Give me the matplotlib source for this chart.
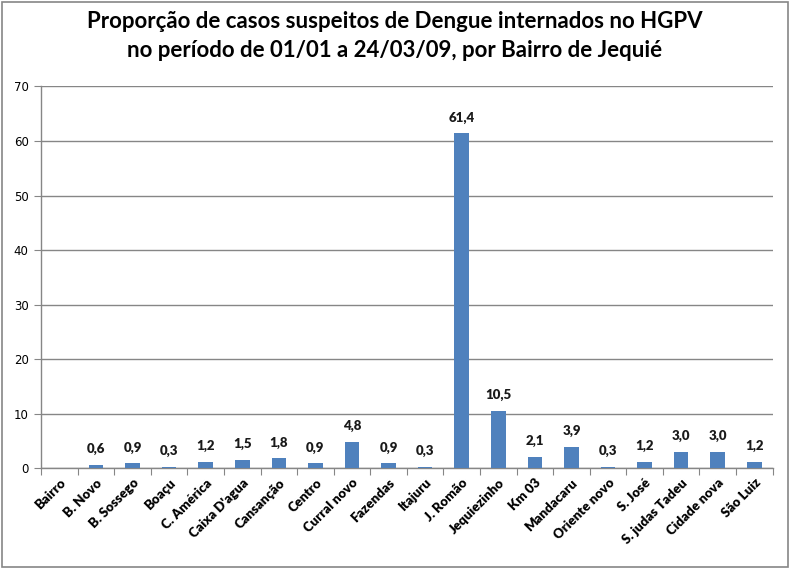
import numpy as np
import matplotlib.pyplot as plt

# values (Bairro has no bar)
bairros = ["Bairro", "B. Novo", "B. Sossego", "Boaçu", "C. América", "Caixa D'agua",
           "Cansanção", "Centro", "Curral novo", "Fazendas", "Itajuru", "J. Romão",
           "Jequiezinho", "Km 03", "Mandacaru", "Oriente novo", "S. José",
           "S. judas Tadeu", "Cidade nova", "São Luiz"]
proporcao = [np.nan, 0.6, 0.9, 0.3, 1.2, 1.5, 1.8, 0.9, 4.8, 0.9, 0.3, 61.4,
             10.5, 2.1, 3.9, 0.3, 1.2, 3.0, 3.0, 1.2]
y_ticks = [0, 10, 20, 30, 40, 50, 60, 70]

titulo = ("Proporção de casos suspeitos de Dengue internados no HGPV\n"
          "no período de 01/01 a 24/03/09, por Bairro de Jequié")

bar_color = "#4F81BD"
grid_color = "#868686"
font_lbl = ["Lato", "DejaVu Sans"]

fig = plt.figure(figsize=(7.9, 5.69), dpi=100)
ax = fig.add_axes([0.052, 0.177, 0.926, 0.671])

x = np.arange(len(bairros))
vals = np.array(proporcao, dtype=float)
ax.bar(x, np.nan_to_num(vals), width=0.4, color=bar_color, zorder=3)

for xi, v in zip(x, vals):
    if np.isnan(v):
        continue
    ax.annotate(f"{v:.1f}".replace(".", ","), (xi, v), xytext=(0, 7),
                textcoords="offset points", ha="center", va="bottom",
                fontsize=9.5, fontweight="heavy", family=font_lbl, color="#1a1a1a")

ax.set_xlim(-0.5, len(bairros) - 0.5)
ax.set_ylim(0, 70)
ax.set_yticks(y_ticks)
ax.set_yticklabels([str(t) for t in y_ticks], family="DejaVu Sans", fontsize=8.5)
ax.yaxis.grid(True, color=grid_color, linewidth=1.0, zorder=0)

# category ticks between bars, labels at centres
ax.set_xticks(np.arange(len(bairros) + 1) - 0.5)
ax.set_xticklabels([])
ax.set_xticks(x, minor=True)
ax.set_xticklabels(bairros, minor=True, rotation=45, ha="right",
                   rotation_mode="anchor", fontsize=9.5, fontweight="heavy",
                   family=font_lbl)
ax.tick_params(axis="x", which="minor", length=0, pad=6)
ax.tick_params(axis="x", which="major", length=5, color=grid_color)
ax.tick_params(axis="y", length=5, color=grid_color, pad=4)

for s in ["top", "right"]:
    ax.spines[s].set_visible(False)
for s in ["left", "bottom"]:
    ax.spines[s].set_color(grid_color)
    ax.spines[s].set_linewidth(1.0)

fig.text(0.5, 0.937, titulo, ha="center", va="center", fontsize=16,
         fontweight="bold", family=font_lbl, linespacing=1.45)

# outer frame of the chart
fig.patches.append(plt.Rectangle((0.002, 0.004), 0.995, 0.993, transform=fig.transFigure,
                                 fill=False, edgecolor="#868686", linewidth=1.2))

fig.savefig("out.png", dpi=100)
